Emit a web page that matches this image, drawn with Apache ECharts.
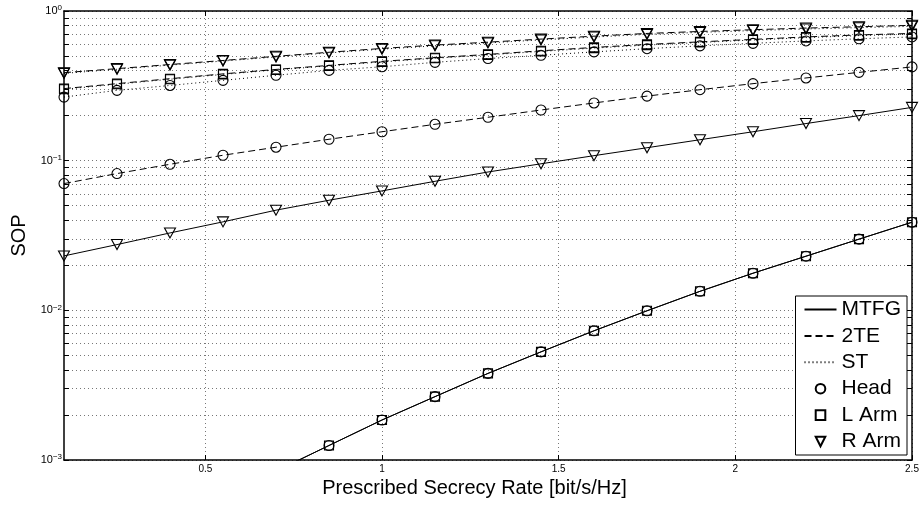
<!DOCTYPE html>
<html><head><meta charset="utf-8">
<script src="https://cdn.jsdelivr.net/npm/echarts@6/dist/echarts.min.js"></script>
<style>html,body{margin:0;padding:0;background:#fff}#c{width:922px;height:508px}</style>
</head><body><div id="c"></div>
<script>
// ---- data ----
const rates = [0.1,0.25,0.4,0.55,0.7,0.85,1.0,1.15,1.3,1.45,1.6,1.75,1.9,2.05,2.2,2.35,2.5];
const mtfgHead = [0.000126,0.000214,0.000347,0.00055,0.000843,0.00125,0.00185,0.00265,0.00379,0.00528,0.0073,0.00993,0.0134,0.0177,0.0230,0.0299,0.0388];
const mtfgLArm = [0.000126,0.000214,0.000347,0.00055,0.000843,0.00125,0.00185,0.00265,0.00379,0.00528,0.0073,0.00993,0.0134,0.0177,0.0230,0.0299,0.0388];
const mtfgRArm = [0.0231,0.0275,0.0329,0.039,0.0467,0.0544,0.0628,0.0728,0.084,0.0953,0.108,0.122,0.138,0.156,0.177,0.200,0.227];
const te2Head = [0.0703,0.082,0.0946,0.1087,0.123,0.139,0.156,0.175,0.195,0.218,0.243,0.270,0.298,0.327,0.357,0.389,0.423];
const te2LArm = [0.303,0.327,0.353,0.380,0.407,0.433,0.461,0.487,0.513,0.542,0.571,0.598,0.622,0.646,0.671,0.692,0.708];
const te2RArm = [0.387,0.412,0.439,0.467,0.498,0.530,0.562,0.592,0.619,0.649,0.679,0.708,0.730,0.750,0.769,0.785,0.802];
const stHead = [0.266,0.295,0.318,0.344,0.372,0.401,0.424,0.454,0.481,0.506,0.533,0.560,0.585,0.608,0.631,0.652,0.671];
const stLArm = [0.300,0.324,0.350,0.377,0.404,0.430,0.457,0.483,0.509,0.537,0.565,0.592,0.616,0.640,0.664,0.685,0.701];
const stRArm = [0.383,0.408,0.435,0.463,0.493,0.525,0.556,0.585,0.612,0.641,0.670,0.698,0.720,0.740,0.758,0.774,0.790];

const xTickLabels = [0.5,1,1.5,2,2.5];
const yDecades = [0.001,0.01,0.1,1];
const yMinorMultipliers = [1,2,3,4,5,6,7,8,9];
const legendNames = ['MTFG','2TE','ST','Head','L Arm','R Arm'];

// ---- helpers ----
const FONT = "'Liberation Sans', Arial, Helvetica, sans-serif";
const yTickValues = [];
yDecades.slice(0,3).forEach(d => yMinorMultipliers.forEach(m => yTickValues.push(+(d*m).toPrecision(3))));
yTickValues.push(1);

const pair = arr => rates.map((x,i)=>[x, arr[i]]);
const styles = {
  MTFG: 'solid',
  '2TE': [7,4],
  ST: [1,3]
};
const marks = {
  Head: {symbol:'circle', size:10, rotate:0},
  'L Arm': {symbol:'rect', size:9, rotate:0},
  'R Arm': {symbol:'triangle', size:[11,10], rotate:180}
};
function dataSeries(name, scheme, pos, arr){
  const m = marks[pos];
  return {
    type:'line', name: name, data: pair(arr),
    xAxisIndex:0, yAxisIndex:0,
    symbol:m.symbol, symbolSize:m.size, symbolRotate:m.rotate,
    showAllSymbol:true, clip:true, silent:true, animation:false,
    lineStyle:{color:'#000', width:1, type:styles[scheme]},
    itemStyle:{color:'rgba(0,0,0,0)', borderColor:'#000', borderWidth:1.1}
  };
}
const series = [
  dataSeries('MTFG Head','MTFG','Head',mtfgHead),
  dataSeries('MTFG L Arm','MTFG','L Arm',mtfgLArm),
  dataSeries('MTFG R Arm','MTFG','R Arm',mtfgRArm),
  dataSeries('2TE Head','2TE','Head',te2Head),
  dataSeries('2TE L Arm','2TE','L Arm',te2LArm),
  dataSeries('2TE R Arm','2TE','R Arm',te2RArm),
  dataSeries('ST Head','ST','Head',stHead),
  dataSeries('ST L Arm','ST','L Arm',stLArm),
  dataSeries('ST R Arm','ST','R Arm',stRArm)
];
// legend-only series
['MTFG','2TE','ST'].forEach(n => series.push({
  type:'line', name:n, data:[], symbol:'none', animation:false,
  lineStyle:{color:'#000', width:1, type:styles[n]},
  itemStyle:{color:'rgba(0,0,0,0)', borderColor:'rgba(0,0,0,0)', borderWidth:0}
}));
['Head','L Arm','R Arm'].forEach(n => series.push({
  type:'line', name:n, data:[], symbol:marks[n].symbol, symbolRotate:marks[n].rotate, animation:false,
  lineStyle:{color:'rgba(0,0,0,0)', width:0, opacity:0},
  itemStyle:{color:'rgba(0,0,0,0)', borderColor:'#000', borderWidth:0.8}
}));

const axisLineStyle = {color:'#000', width:1.5};
const gridLine = {show:true, lineStyle:{color:'#777', width:1, type:[1,3]}};

const option = {
  backgroundColor:'#fff',
  animation:false,
  grid:{left:64, right:10, top:11, bottom:48},
  xAxis:[{
    type:'value', min:0.1, max:2.5, position:'bottom',
    axisLine:{show:true, onZero:false, lineStyle:axisLineStyle},
    axisTick:{show:true, inside:true, length:5, customValues:xTickLabels, lineStyle:{color:'#000'}},
    axisLabel:{show:true, customValues:xTickLabels, margin:4, fontSize:10, color:'#000', fontFamily:FONT, showMinLabel:true, showMaxLabel:true},
    splitLine:gridLine,
    name:'Prescribed Secrecy Rate [bit/s/Hz]', nameLocation:'middle', nameGap:18,
    nameTextStyle:{fontSize:20, color:'#000', fontFamily:FONT, padding:[0,27,0,0]}
  },{
    type:'value', min:0.1, max:2.5, position:'top',
    axisLine:{show:true, onZero:false, lineStyle:axisLineStyle},
    axisTick:{show:true, inside:true, length:5, customValues:xTickLabels, lineStyle:{color:'#000'}},
    axisLabel:{show:false}, splitLine:{show:false}
  }],
  yAxis:[{
    type:'log', logBase:10, min:0.001, max:1, position:'left',
    axisLine:{show:true, onZero:false, lineStyle:axisLineStyle},
    axisTick:{show:true, inside:true, length:5, customValues:yTickValues, lineStyle:{color:'#000'}},
    axisLabel:{show:true, customValues:yDecades, margin:2, color:'#000', fontFamily:FONT, fontSize:11,
      formatter: v => {
        const e = Math.round(Math.log10(v));
        return '{base|10}{sup|' + (e<0 ? '\u2212' + (-e) : e) + '}';
      },
      rich:{
        base:{fontSize:11, fontFamily:FONT, color:'#000'},
        sup:{fontSize:8, fontFamily:FONT, color:'#000', padding:[0,0,6,0]}
      }
    },
    splitLine:gridLine,
    name:'SOP', nameLocation:'middle', nameGap:32, nameRotate:90,
    nameTextStyle:{fontSize:20, color:'#000', fontFamily:FONT}
  },{
    type:'log', logBase:10, min:0.001, max:1, position:'right',
    axisLine:{show:true, onZero:false, lineStyle:axisLineStyle},
    axisTick:{show:true, inside:true, length:5, customValues:yTickValues, lineStyle:{color:'#000'}},
    axisLabel:{show:false}, splitLine:{show:false}
  }],
  legend:{
    data:legendNames, orient:'vertical', right:15, bottom:53,
    itemWidth:32, itemHeight:12, itemGap:5.4, selectedMode:false,
    textStyle:{fontSize:21, lineHeight:21, color:'#000', fontFamily:FONT},
    borderColor:'#000', borderWidth:1, padding:[3,6,3,8], backgroundColor:'#fff', borderRadius:0
  },
  series: series
};
const chart = echarts.init(document.getElementById('c'), null, {renderer:'canvas'});
chart.setOption(option);
</script>
</body></html>
